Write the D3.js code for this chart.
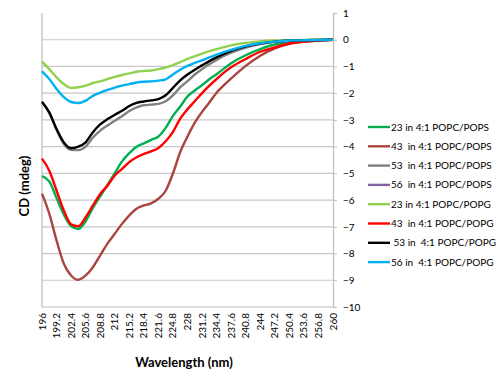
<!DOCTYPE html>
<html>
<head>
<meta charset="utf-8">
<script src="https://cdn.jsdelivr.net/npm/d3@7"></script>
<style>
  body { margin: 0; background: #fff; }
  text { font-family: Lato, "Open Sans", sans-serif; fill: #000; }
</style>
</head>
<body>
<svg id="chart" width="500" height="388"></svg>
<script>
const wavelengths = [196,197.6,199.2,200.8,202.4,204,205.6,207.2,208.8,210.4,212,213.6,215.2,216.8,218.4,220,221.6,223.2,224.8,226.4,228,229.6,231.2,232.8,234.4,236,237.6,240.8,244,247.2,250.4,253.6,256.8,260];

const xTicks = [196,199.2,202.4,205.6,208.8,212,215.2,218.4,221.6,224.8,228,231.2,234.4,237.6,240.8,244,247.2,250.4,253.6,256.8,260];
const yTicks = [1,0,-1,-2,-3,-4,-5,-6,-7,-8,-9,-10];

const p23pops = [-5.1,-5.3,-5.92,-6.54,-6.97,-7.08,-6.79,-6.29,-5.86,-5.43,-4.99,-4.55,-4.24,-4.0,-3.88,-3.75,-3.62,-3.3,-2.85,-2.5,-2.12,-1.9,-1.7,-1.48,-1.29,-1.08,-0.88,-0.58,-0.35,-0.18,-0.1,-0.05,-0.02,0];
const p43pops = [-5.76,-6.51,-7.51,-8.38,-8.82,-8.98,-8.82,-8.51,-8.07,-7.63,-7.26,-6.89,-6.57,-6.32,-6.2,-6.12,-5.95,-5.65,-5.0,-4.2,-3.62,-3.1,-2.7,-2.35,-1.98,-1.7,-1.45,-0.98,-0.6,-0.32,-0.15,-0.07,-0.03,0];
const p53pops = [-2.34,-2.74,-3.37,-3.9,-4.12,-4.13,-4.0,-3.66,-3.4,-3.21,-3.03,-2.86,-2.67,-2.53,-2.45,-2.43,-2.4,-2.3,-2.08,-1.78,-1.55,-1.3,-1.1,-0.92,-0.76,-0.61,-0.48,-0.29,-0.16,-0.08,-0.04,-0.02,-0.01,0];
const p56pops = []; // not visible in the plot
const p23popg = [-0.82,-1.1,-1.41,-1.66,-1.8,-1.78,-1.72,-1.62,-1.56,-1.47,-1.39,-1.32,-1.26,-1.2,-1.17,-1.15,-1.1,-1.04,-0.95,-0.84,-0.72,-0.62,-0.52,-0.43,-0.35,-0.28,-0.21,-0.12,-0.06,-0.03,-0.02,-0.01,0,0];
const p43popg = [-4.45,-4.9,-5.64,-6.39,-6.91,-6.98,-6.64,-6.2,-5.77,-5.46,-5.08,-4.83,-4.58,-4.4,-4.27,-4.18,-4.05,-3.8,-3.45,-2.95,-2.6,-2.3,-2.0,-1.72,-1.47,-1.23,-1.03,-0.72,-0.45,-0.29,-0.14,-0.07,-0.03,0];
const p53popg = [-2.32,-2.72,-3.34,-3.84,-4.06,-4.0,-3.84,-3.46,-3.17,-2.97,-2.81,-2.66,-2.48,-2.36,-2.31,-2.27,-2.22,-2.08,-1.8,-1.52,-1.3,-1.12,-0.96,-0.8,-0.66,-0.53,-0.42,-0.25,-0.14,-0.07,-0.03,-0.02,-0.01,0];
const p56popg = [-1.18,-1.47,-1.84,-2.15,-2.33,-2.37,-2.28,-2.1,-1.98,-1.88,-1.79,-1.72,-1.66,-1.6,-1.57,-1.56,-1.53,-1.48,-1.3,-1.12,-0.98,-0.87,-0.77,-0.66,-0.56,-0.46,-0.38,-0.23,-0.13,-0.07,-0.03,-0.02,-0.01,0];

const seriesNames = ["23 in 4:1 POPC/POPS","43  in 4:1 POPC/POPS","53  in 4:1 POPC/POPS","56  in 4:1 POPC/POPS","23 in 4:1 POPC/POPG","43  in 4:1 POPC/POPG"," 53 in  4:1 POPC/POPG","56 in  4:1 POPC/POPG"];
const seriesValues = [p23pops, p43pops, p53pops, p56pops, p23popg, p43popg, p53popg, p56popg];
const seriesColors = ["#00b050","#a9443e","#808080","#8064a2","#92d050","#ff0000","#000000","#00b0f0"];

const plotL = 42, plotR = 333, plotT = 13, plotB = 307;

const svg = d3.select("#chart");

const x = d3.scaleLinear().domain([196, 260]).range([plotL, plotR]);
const y = d3.scaleLinear().domain([-10, 1]).range([plotB, plotT]);

// gridlines
svg.append("g")
  .selectAll("line")
  .data(yTicks.filter(d => d !== -10 && d !== 1))
  .join("line")
  .attr("x1", plotL).attr("x2", plotR)
  .attr("y1", d => y(d)).attr("y2", d => y(d))
  .attr("stroke", "#c8c8c8").attr("stroke-width", 1.2);

// left border + bottom line
svg.append("line")
  .attr("x1", plotL).attr("x2", plotL).attr("y1", plotT).attr("y2", plotB)
  .attr("stroke", "#bdbdbd").attr("stroke-width", 1.2);
svg.append("line")
  .attr("x1", plotL).attr("x2", plotR).attr("y1", plotB).attr("y2", plotB)
  .attr("stroke", "#bdbdbd").attr("stroke-width", 1.2);

// y axis on the right
const yAxis = d3.axisRight(y).tickValues(yTicks).tickSize(4).tickPadding(6);
const yg = svg.append("g")
  .attr("transform", `translate(${plotR},0)`)
  .call(yAxis);
yg.select(".domain").attr("stroke", "#bdbdbd").attr("stroke-width", 1.2);
yg.selectAll(".tick line").attr("stroke", "#bdbdbd");
yg.selectAll("text").style("font-size", "10px").attr("fill", "#000");

// x tick labels, rotated
svg.append("g")
  .selectAll("text")
  .data(xTicks)
  .join("text")
  .attr("transform", d => `translate(${x(d)},${plotB + 6}) rotate(-90)`)
  .attr("text-anchor", "end")
  .attr("dy", "0.35em")
  .style("font-size", "10px")
  .text(d => d);

// lines
const line = d3.line()
  .x(d => x(d[0]))
  .y(d => y(d[1]))
  .curve(d3.curveMonotoneX);

seriesValues.forEach((vals, i) => {
  if (!vals.length) return;
  svg.append("path")
    .datum(vals.map((v, j) => [wavelengths[j], v]))
    .attr("fill", "none")
    .attr("stroke", seriesColors[i])
    .attr("stroke-width", 2.4)
    .attr("stroke-linejoin", "round")
    .attr("d", line);
});

// axis titles
svg.append("text")
  .attr("x", 184).attr("y", 367)
  .attr("text-anchor", "middle")
  .style("font-size", "13px").style("font-weight", "bold")
  .text("Wavelength (nm)");

svg.append("text")
  .attr("transform", "translate(24,186) rotate(-90)")
  .attr("text-anchor", "middle")
  .attr("dy", "0.35em")
  .style("font-size", "13px").style("font-weight", "bold")
  .text("CD (mdeg)");

// legend
const legend = svg.append("g");
seriesNames.forEach((name, i) => {
  const ly = 127 + i * 19.3;
  legend.append("line")
    .attr("x1", 368).attr("x2", 390).attr("y1", ly).attr("y2", ly)
    .attr("stroke", seriesColors[i]).attr("stroke-width", 2.4);
  legend.append("text")
    .attr("x", 391).attr("y", ly)
    .attr("dy", "0.35em")
    .style("font-size", "10px")
    .style("white-space", "pre")
    .text(name);
});
</script>
</body>
</html>
